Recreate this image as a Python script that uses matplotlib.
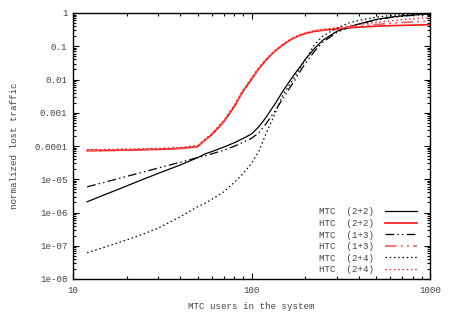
import numpy as np
import matplotlib
matplotlib.use('Agg')
from matplotlib import pyplot as plt
from matplotlib.ticker import LogLocator, NullFormatter, FixedFormatter, FixedLocator

plt.rcParams['font.family'] = ['Liberation Mono', 'DejaVu Sans Mono']
plt.rcParams['font.size'] = 6.6

# MTC users in the system
users = [12, 15, 20, 25, 30, 40, 50, 55, 60, 70, 80, 90, 100, 110, 120, 135,
         150, 165, 175, 190, 200, 225, 250, 300, 350, 400, 500, 600, 700, 850, 1000]

mtc_22 = [2.1e-6, 3.4e-6, 6.3e-6, 1.02e-5, 1.5e-5, 2.7e-5, 4.5e-5, 5.8e-5, 6.8e-5, 9.3e-5,
          1.25e-4, 1.7e-4, 2.3e-4, 3.8e-4, 7e-4, 1.8e-3, 4.5e-3, 9.5e-3, 0.015, 0.027,
          0.04, 0.085, 0.15, 0.28, 0.38, 0.47, 0.64, 0.75, 0.82, 0.89, 0.93]
htc_22 = [7.2e-5, 7.3e-5, 7.5e-5, 7.7e-5, 7.9e-5, 8.4e-5, 9.6e-5, 1.5e-4, 2.2e-4, 5.3e-4,
          1.5e-3, 4.5e-3, 0.01, 0.021, 0.037, 0.07, 0.11, 0.155, 0.18, 0.22,
          0.24, 0.28, 0.30, 0.33, 0.355, 0.375, 0.40, 0.415, 0.425, 0.435, 0.445]
mtc_13 = [5.9e-6, 8.1e-6, 1.22e-5, 1.67e-5, 2.17e-5, 3.26e-5, 4.5e-5, 5.1e-5, 5.8e-5, 7.5e-5,
          9.8e-5, 1.3e-4, 1.7e-4, 2.5e-4, 4.5e-4, 1.1e-3, 2.7e-3, 6e-3, 9.5e-3, 0.02,
          0.03, 0.07, 0.13, 0.26, 0.37, 0.46, 0.62, 0.73, 0.8, 0.87, 0.91]
htc_13 = [7.5e-5, 7.6e-5, 7.8e-5, 8e-5, 8.2e-5, 8.7e-5, 1e-4, 1.55e-4, 2.3e-4, 5.6e-4,
          1.6e-3, 4.7e-3, 0.0105, 0.022, 0.038, 0.072, 0.112, 0.158, 0.185, 0.225,
          0.245, 0.29, 0.31, 0.345, 0.38, 0.41, 0.45, 0.49, 0.52, 0.55, 0.57]
mtc_24 = [6.2e-8, 9e-8, 1.5e-7, 2.3e-7, 3.4e-7, 7.5e-7, 1.5e-6, 1.9e-6, 2.5e-6, 4.2e-6,
          8e-6, 1.5e-5, 3e-5, 7e-5, 2.2e-4, 9e-4, 3.5e-3, 7.5e-3, 0.012, 0.025,
          0.039, 0.11, 0.2, 0.35, 0.5, 0.6, 0.75, 0.84, 0.89, 0.94, 0.97]
htc_24 = [7.8e-5, 7.9e-5, 8.1e-5, 8.3e-5, 8.5e-5, 9e-5, 1.05e-4, 1.6e-4, 2.4e-4, 5.9e-4,
          1.7e-3, 5e-3, 0.011, 0.023, 0.04, 0.075, 0.116, 0.162, 0.19, 0.23,
          0.25, 0.295, 0.32, 0.36, 0.41, 0.45, 0.52, 0.58, 0.63, 0.68, 0.72]

labels = ['MTC  (2+2)', 'HTC  (2+2)', 'MTC  (1+3)', 'HTC  (1+3)', 'MTC  (2+4)', 'HTC  (2+4)']
yticks = [1e-8, 1e-7, 1e-6, 1e-5, 1e-4, 1e-3, 1e-2, 1e-1, 1]
yticklabels = ['1e-08', '1e-07', '1e-06', '1e-05', '0.0001', '0.001', '0.01', '0.1', '1']
xticks = [10, 100, 1000]
xticklabels = ['10', '100', '1000']

red = '#f01818'
dashdot = (0, (7, 2.5, 1.2, 2.5, 1.2, 2.5))
dot = (0, (1.2, 2.2))

fig = plt.figure(figsize=(4.54, 3.14), dpi=100)
ax = fig.add_axes([73/454, 1 - 279/314, 357/454, 266/314])

ax.plot(users, mtc_22, color='black', lw=0.9, label=labels[0])
ax.plot(users, htc_22, color=red, lw=1.2, label=labels[1])
ax.plot(users, mtc_13, color='black', lw=0.9, ls=dashdot, label=labels[2])
ax.plot(users, htc_13, color='#f06060', lw=1.2, ls=dashdot, label=labels[3])
ax.plot(users, mtc_24, color='black', lw=0.9, ls=dot, label=labels[4])
ax.plot(users, htc_24, color=red, lw=0.9, ls=dot, label=labels[5])

ax.set_xscale('log')
ax.set_yscale('log')
ax.set_xlim(10, 1000)
ax.set_ylim(1e-8, 1)

ax.yaxis.set_major_locator(FixedLocator(yticks))
ax.yaxis.set_major_formatter(FixedFormatter(yticklabels))
ax.xaxis.set_major_locator(FixedLocator(xticks))
ax.xaxis.set_major_formatter(FixedFormatter(xticklabels))
ax.xaxis.set_minor_locator(LogLocator(base=10, subs=np.arange(2, 10), numticks=20))
ax.yaxis.set_minor_locator(LogLocator(base=10, subs=np.arange(2, 10), numticks=20))
ax.xaxis.set_minor_formatter(NullFormatter())
ax.yaxis.set_minor_formatter(NullFormatter())

ax.tick_params(which='both', direction='in', top=True, right=True, colors='black',
               labelcolor='#444444', width=0.8)
ax.tick_params(which='major', length=4)
ax.tick_params(which='minor', length=2)
ax.tick_params(axis='y', pad=4)
ax.tick_params(axis='x', pad=5)
for s in ax.spines.values():
    s.set_linewidth(1.0)

ax.set_xlabel('MTC users in the system', color='#444444')
ax.set_ylabel('normalized lost traffic', color='#444444')
ax.xaxis.set_label_coords(0.5, -0.086)
ax.yaxis.set_label_coords(-0.151, 0.5)

leg = ax.legend(loc='lower right', bbox_to_anchor=(0.964, 0.018), frameon=False,
                markerfirst=False, handlelength=3.5, handletextpad=1.2,
                labelspacing=0.28, borderpad=0, borderaxespad=0)
for t in leg.get_texts():
    t.set_color('#444444')

fig.savefig('out.png', dpi=100)
